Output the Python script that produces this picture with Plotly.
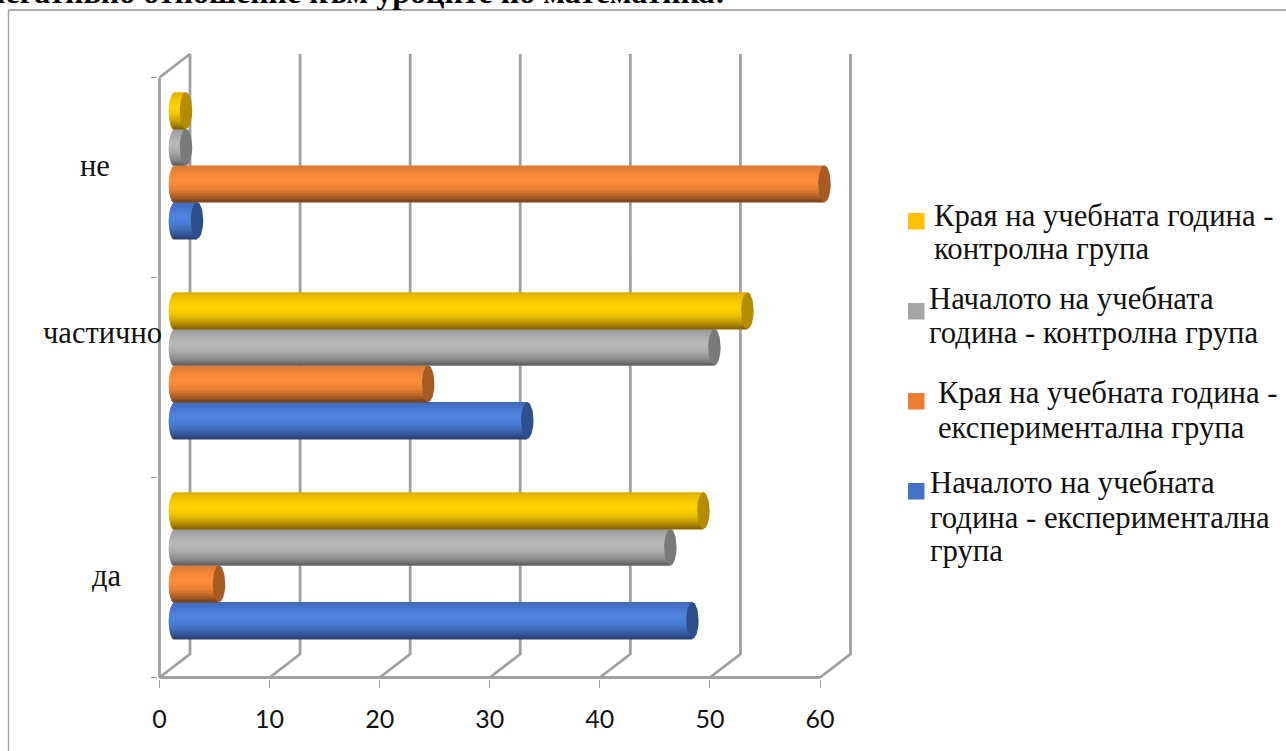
import numpy as np
import plotly.graph_objects as go

# Survey categories and share of answers per group (%)
categories = ["да", "частично", "не"]
start_experimental = [47, 32, 2]
end_experimental = [4, 23, 59]
start_control = [45, 49, 1]
end_control = [48, 52, 1]
x_ticks = [0, 10, 20, 30, 40, 50, 60]

series = [
    dict(values=start_experimental, top="#3f68b5", mid="#5083e0", low="#243d6e", cap="#2d4f8e"),
    dict(values=end_experimental, top="#d87632", mid="#ff8c3a", low="#74401a", cap="#a65a24"),
    dict(values=start_control, top="#969696", mid="#b8b8b8", low="#5e5e5e", cap="#7a7a7a"),
    dict(values=end_control, top="#dcaa00", mid="#ffd200", low="#7e6000", cap="#b58b00"),
]

# Text lines with their baselines, then the colour swatch
legend_entries = [
    (["Края на учебната година -", "контролна група"], 933, [225, 258], 908, 213, "#ffc000"),
    (["Началото на учебната", "година - контролна група"], 928, [308, 342], 908, 303, "#a5a5a5"),
    (["Края на учебната година -", "експериментална група"], 937, [402, 437], 908, 393, "#ed7d31"),
    (["Началото на учебната", "година - експериментална", "група"], 929, [492, 527, 560], 908, 483, "#4472c4"),
]
category_labels = [("не", 95, 166), ("частично", 102, 333), ("да", 107, 576)]

W, H = 1286, 751
X0, X1 = 159.5, 820.0      # front plane of the box, pixels
Y0, Y1 = 677.5, 77.5
PX_PER_UNIT_X = (X1 - X0) / 60
PX_PER_CAT = (Y0 - Y1) / 3
DEPTH_PX_X, DEPTH_PX_Y = 30.5, 23.5
PAD = 1.5                  # keeps the outer wall lines inside the plot area

SERIF = "Liberation Serif"
WALL = "#a0a0a0"
TEXT_SIZE = 30.7


def px(x):
    return x / W


def py(y):
    return 1 - y / H


def hex_rgb(c):
    return np.array([int(c[i:i + 2], 16) for i in (1, 3, 5)], dtype=float)


def shade(s, t):
    """Cylinder shading across a bar; t runs from 0 (top) to 1 (bottom)."""
    top, mid, low = hex_rgb(s["top"]), hex_rgb(s["mid"]), hex_rgb(s["low"])
    if t < 0.38:
        c = top + (mid - top) * (t / 0.38) ** 0.7
    else:
        c = mid + (low - mid) * ((t - 0.38) / 0.62) ** 2.0
    return "rgb(%d,%d,%d)" % tuple(c)


fig = go.Figure()

# Axis lines, floor and back wall of the 3D box, drawn on the front axes
depth_x = DEPTH_PX_X / PX_PER_UNIT_X
depth_y = DEPTH_PX_Y / PX_PER_CAT
wall_x, wall_y = [0, 60, None, 0, 0, None], [-0.5, -0.5, None, -0.5, 2.5, None]
for t in x_ticks:
    wall_x += [t, t + depth_x, t + depth_x, None]
    wall_y += [-0.5, -0.5 + depth_y, 2.5 + depth_y, None]
wall_x += [0, depth_x]
wall_y += [2.5, 2.5 + depth_y]
fig.add_trace(go.Scatter(x=wall_x, y=wall_y, mode="lines",
                         line=dict(color=WALL, width=2.8), hoverinfo="skip",
                         showlegend=False, xaxis="x", yaxis="y"))

# Bars sit half way into the box, on axes shifted by half the depth
BAR_H = 36.6 / PX_PER_CAT
CAP_A = 6.2 / PX_PER_UNIT_X
STRIPS = 24
offsets = [-2.0, -1.0, 0.0, 1.0]
positions = list(range(len(categories)))
theta = np.linspace(0, 2 * np.pi, 60)

for s, off in zip(series, offsets):
    strip_h = BAR_H / STRIPS
    for k in range(STRIPS):
        t = (k + 0.5) / STRIPS           # 0 at top
        u = 2 * t - 1
        round_left = CAP_A * np.sqrt(max(1 - u * u, 0))
        # Each strip reaches over the next one so no gaps show after pixel snapping
        strip_top = off * BAR_H + (STRIPS - k) * strip_h
        reach = min(2.2 * strip_h, strip_top - off * BAR_H)
        fig.add_trace(go.Bar(
            y=positions, x=[v + round_left for v in s["values"]],
            base=-round_left, offset=strip_top - reach, width=reach,
            orientation="h", marker=dict(color=shade(s, t), line=dict(width=0)),
            hovertext=categories, hoverinfo="text", showlegend=False,
            xaxis="x2", yaxis="y2"))
    # End cap of each cylinder
    for i, v in zip(positions, s["values"]):
        fig.add_trace(go.Scatter(
            x=v + CAP_A * np.cos(theta),
            y=i + off * BAR_H + BAR_H / 2 + BAR_H / 2 * np.sin(theta),
            mode="lines", fill="toself", fillcolor=s["cap"], line=dict(width=0),
            hoverinfo="skip", showlegend=False, xaxis="x2", yaxis="y2"))

shapes = [
    # Frame around the chart, running off the page to the right and below
    dict(type="line", xref="paper", yref="paper", x0=px(8.5), x1=1, y0=py(10), y1=py(10),
         line=dict(color="#8f8f8f", width=1.6)),
    dict(type="line", xref="paper", yref="paper", x0=px(8.5), x1=px(8.5), y0=py(10), y1=0,
         line=dict(color="#a0a0a0", width=1.4)),
]

annotations = [
    dict(text="<b>негативно отношение към уроците по математика:</b>",
         xref="paper", yref="paper", x=px(727), y=py(12), xanchor="right", yanchor="bottom",
         showarrow=False, font=dict(family=SERIF, size=32, color="#000000")),
]
for name, cx, cy in category_labels:
    annotations.append(dict(text=name, xref="paper", yref="paper", x=px(cx), y=py(cy),
                            xanchor="center", yanchor="middle", showarrow=False,
                            font=dict(family=SERIF, size=30.5, color="#111111")))
for lines, tx, baselines, sx, sy, color in legend_entries:
    for line, base in zip(lines, baselines):
        annotations.append(dict(text=line, xref="paper", yref="paper", x=px(tx), y=py(base - 9),
                                xanchor="left", yanchor="middle", align="left", showarrow=False,
                                borderpad=0, font=dict(family=SERIF, size=TEXT_SIZE, color="#111111")))
    shapes.append(dict(type="rect", xref="paper", yref="paper", x0=px(sx), x1=px(sx + 16.5),
                       y0=py(sy), y1=py(sy + 16.5), fillcolor=color, line=dict(width=0)))

# Plot area spans the front plane plus the box depth, with a small pad all round
dom_x = [px(X0 - PAD), px(X1 + DEPTH_PX_X + PAD)]
dom_y = [py(Y0 + PAD), py(Y1 - DEPTH_PX_Y - PAD)]
range_x = [-PAD / PX_PER_UNIT_X, 60 + (DEPTH_PX_X + PAD) / PX_PER_UNIT_X]
range_y = [-0.5 - PAD / PX_PER_CAT, 2.5 + (DEPTH_PX_Y + PAD) / PX_PER_CAT]
shift_x = 15.5 / PX_PER_UNIT_X
shift_y = 12.0 / PX_PER_CAT

fig.update_layout(
    width=W, height=H, autosize=False,
    margin=dict(l=0, r=0, t=0, b=0, pad=0, autoexpand=False),
    paper_bgcolor="white", plot_bgcolor="white", barmode="overlay", showlegend=False,
    shapes=shapes, annotations=annotations,
    xaxis=dict(domain=dom_x, range=range_x, tickvals=x_ticks, ticks="outside", ticklen=8,
               tickwidth=1.4, tickcolor=WALL, showgrid=False, zeroline=False, showline=False,
               ticklabelstandoff=10, tickfont=dict(family="Lato", size=25, color="#111111")),
    yaxis=dict(domain=dom_y, range=range_y, tickvals=[-0.5, 0.5, 1.5, 2.5], ticktext=["", "", "", ""],
               ticks="outside", ticklen=6, tickwidth=1.4, tickcolor=WALL, showgrid=False,
               zeroline=False, showline=False),
    xaxis2=dict(domain=dom_x, overlaying="x", anchor="y2",
                range=[range_x[0] - shift_x, range_x[1] - shift_x], visible=False),
    yaxis2=dict(domain=dom_y, overlaying="y", anchor="x2",
                range=[range_y[0] - shift_y, range_y[1] - shift_y], visible=False),
)

fig.write_html("out.html", config=dict(displayModeBar=False))
